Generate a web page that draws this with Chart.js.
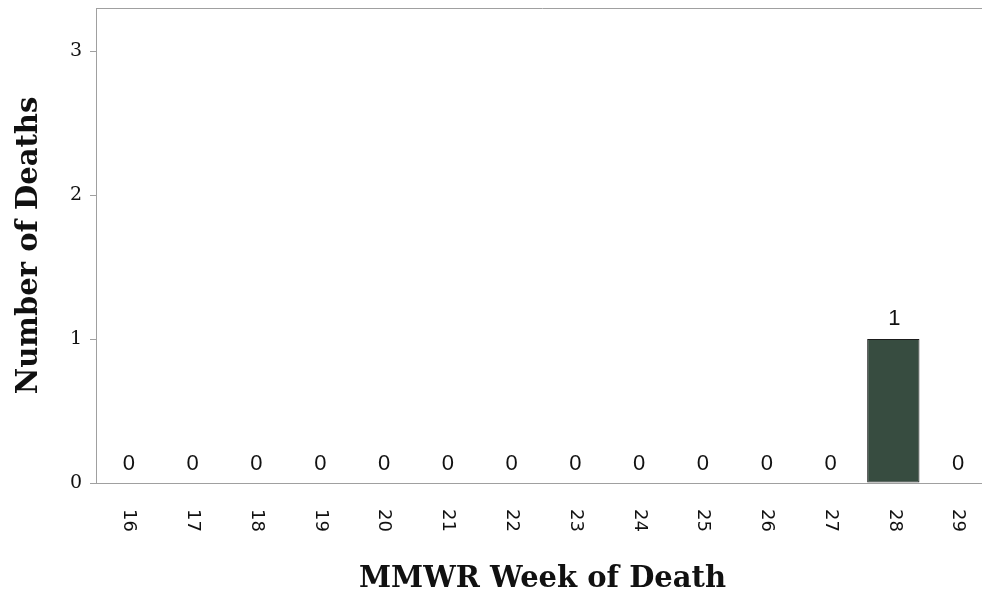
<!DOCTYPE html>
<html>
<head>
<meta charset="utf-8">
<script src="https://cdn.jsdelivr.net/npm/chart.js@4.4.0/dist/chart.umd.min.js"></script>
<style>
    html, body { margin: 0; padding: 0; background: #fff; overflow: hidden; }
    /* plot runs a little past the right edge of the window, as in the original */
    #wrap { width: 989px; height: 593px; position: relative; }
</style>
</head>
<body>
<div id="wrap"><canvas id="deathsChart"></canvas></div>
<script>
const weeks = ['16', '17', '18', '19', '20', '21', '22', '23', '24', '25', '26', '27', '28', '29'];
const deaths = [0, 0, 0, 0, 0, 0, 0, 0, 0, 0, 0, 0, 1, 0];
const yTicks = [0, 1, 2, 3];
const yMax = 3.3;

const axisGray = '#a0a0a0';

// value labels above bars + rotated week labels + top border line
const extrasPlugin = {
    id: 'extras',
    afterDraw(chart) {
        const ctx = chart.ctx;
        const area = chart.chartArea;
        const x = chart.scales.x;
        const y = chart.scales.y;

        ctx.save();
        ctx.strokeStyle = axisGray;
        ctx.lineWidth = 1;
        ctx.beginPath();
        ctx.moveTo(area.left, area.top + 0.5);
        ctx.lineTo(area.right, area.top + 0.5);
        ctx.stroke();

        ctx.fillStyle = '#111';
        ctx.font = '22px "Liberation Sans", Arial, sans-serif';
        ctx.textAlign = 'center';
        ctx.textBaseline = 'alphabetic';
        deaths.forEach((v, i) => {
            const gap = v > 0 ? 14 : 13;
            ctx.fillText(String(v), x.getPixelForValue(i) + 1, y.getPixelForValue(v) - gap);
        });

        ctx.font = '18px "DejaVu Sans", sans-serif';
        ctx.textAlign = 'left';
        ctx.textBaseline = 'middle';
        weeks.forEach((w, i) => {
            ctx.save();
            ctx.translate(x.getPixelForValue(i) + 1, area.bottom + 26);
            ctx.rotate(Math.PI / 2);
            ctx.fillText(w, 0, 0);
            ctx.restore();
        });
        ctx.restore();
    }
};

new Chart(document.getElementById('deathsChart'), {
    type: 'bar',
    data: {
        labels: weeks,
        datasets: [{
            data: deaths,
            backgroundColor: '#374c40',
            borderColor: '#1b1b1b',
            borderWidth: 1,
            borderSkipped: false,
            categoryPercentage: 1,
            barPercentage: 0.82
        }]
    },
    options: {
        responsive: true,
        maintainAspectRatio: false,
        animation: false,
        layout: { padding: { top: 8, right: 0, left: 0, bottom: 0 } },
        plugins: {
            legend: { display: false },
            tooltip: { enabled: false }
        },
        scales: {
            x: {
                grid: { display: false },
                border: { display: true, color: axisGray, width: 1 },
                ticks: { display: false },
                title: {
                    display: true,
                    text: 'MMWR Week of Death',
                    color: '#111',
                    font: { family: '"DejaVu Serif", serif', size: 29, weight: 'bold' },
                    padding: { top: 0, bottom: -4 }
                },
                afterFit(scale) {
                    scale.height = 110;
                    scale.paddingLeft = 0;
                    scale.paddingRight = 0;
                }
            },
            y: {
                min: 0,
                max: yMax,
                afterBuildTicks(scale) {
                    scale.ticks = yTicks.map(v => ({ value: v }));
                },
                grid: {
                    display: true,
                    drawOnChartArea: false,
                    drawTicks: true,
                    tickLength: 6,
                    color: axisGray
                },
                border: { display: true, color: axisGray, width: 1 },
                ticks: {
                    color: '#111',
                    padding: 8,
                    font: { family: '"DejaVu Serif", serif', size: 19 }
                },
                title: {
                    display: true,
                    text: 'Number of Deaths',
                    color: '#111',
                    font: { family: '"DejaVu Serif", serif', size: 29, weight: 'bold' },
                    padding: { top: 12, bottom: 0 }
                },
                afterFit(scale) {
                    scale.width = 96;
                    scale.paddingTop = 0;
                    scale.paddingBottom = 0;
                }
            }
        }
    },
    plugins: [extrasPlugin]
});
</script>
</body>
</html>
